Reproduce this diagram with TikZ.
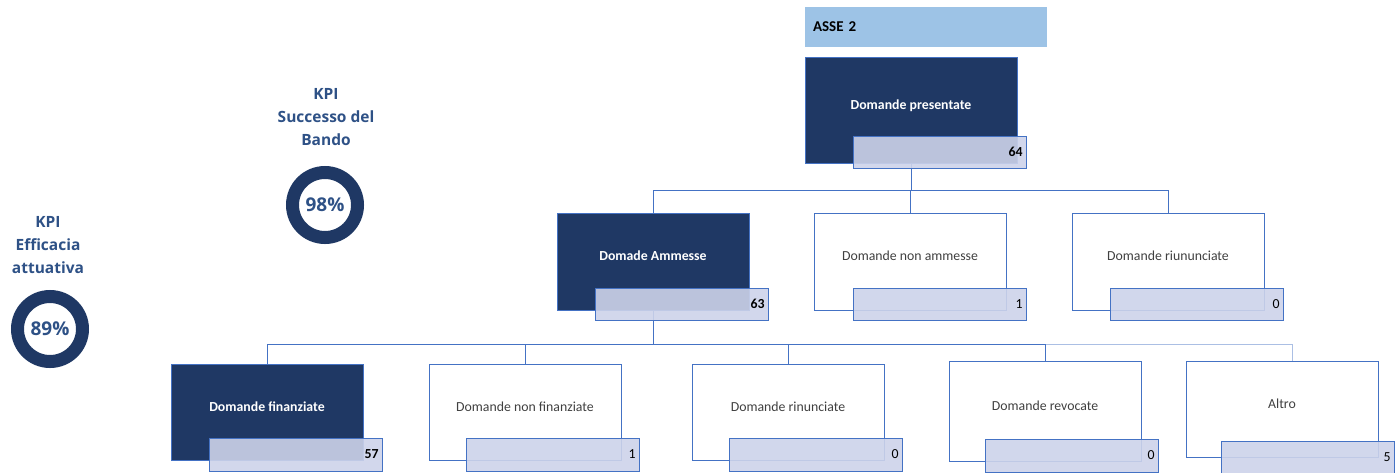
\documentclass[tikz,border=0pt]{standalone}
\usepackage{fontspec}
\setmainfont{Carlito}
\newfontfamily\kpifont{Open Sans}
\usetikzlibrary{backgrounds}

\definecolor{navy}{HTML}{1F3864}
\definecolor{lineblue}{HTML}{4472C4}
\definecolor{assefill}{HTML}{9DC3E6}
\definecolor{numfill}{HTML}{CDD3EA}
\definecolor{kpitext}{HTML}{2E5186}
\definecolor{greytext}{HTML}{404040}

\tikzset{
  box/.style={draw=lineblue, line width=0.8pt, minimum width=192pt, minimum height=97pt,
    inner sep=0pt, text height=10pt, text depth=12pt, font=\fontsize{13.8}{16}\selectfont},
  darkbox/.style={box, fill=navy, text=white, font=\fontsize{13.8}{16}\selectfont\bfseries},
  whitebox/.style={box, fill=white, text=greytext},
  numbox/.style={draw=lineblue, line width=0.8pt, fill=numfill, fill opacity=0.9, text opacity=1,
    minimum width=173pt, minimum height=32pt, text width=166pt, align=right, inner sep=0pt,
    anchor=south west, text=black, font=\fontsize{13.8}{16}\selectfont},
  darknum/.style={numbox, font=\fontsize{13.8}{16}\selectfont\bfseries},
  conn/.style={draw=lineblue, line width=0.8pt},
  ring/.style={circle, draw=navy, line width=13pt, minimum size=65pt, inner sep=0pt,
    text=kpitext, font=\kpifont\fontsize{19}{20}\selectfont\bfseries},
  kpi/.style={align=center, text=kpitext, font=\kpifont\fontsize{15.5}{23}\selectfont\bfseries}
}

\begin{document}
\begin{tikzpicture}[x=1pt,y=-1pt]
\useasboundingbox (0,0) rectangle (1399,472);

\node[kpi] (kpisucc) at (326,117) {KPI\\Successo del\\Bando};
\node[ring] (ringsucc) at (325,205) {98\%};
\node[kpi] (kpieff) at (48,245) {KPI\\Efficacia\\attuativa};
\node[ring] (ringeff) at (50,329) {89\%};

\node[fill=assefill, minimum width=242pt, minimum height=40pt, inner sep=0pt, text width=226pt,
  align=left, font=\fontsize{15}{16}\selectfont\bfseries] (asse) at (926,27) {ASSE 2};

\node[darkbox, minimum width=212pt, minimum height=106pt] (pres) at (911,110) {Domande presentate};
\node[darknum] (pres-n) at ([shift={(48,5)}]pres.south west) {64};

\node[darkbox] (amm) at (653,261.5) {Domade Ammesse};
\node[darknum] (amm-n) at ([shift={(38,10)}]amm.south west) {63};
\node[whitebox] (nonamm) at (910,261.5) {Domande non ammesse};
\node[numbox] (nonamm-n) at ([shift={(39,10)}]nonamm.south west) {1};
\node[whitebox] (riun) at (1168,261.5) {Domande riununciate};
\node[numbox] (riun-n) at ([shift={(38,10)}]riun.south west) {0};

\node[darkbox, minimum height=96pt] (fin) at (267,412) {Domande finanziate};
\node[darknum, minimum height=33pt] (fin-n) at ([shift={(38,11)}]fin.south west) {57};
\node[whitebox, minimum height=96pt] (nonfin) at (525,412) {Domande non finanziate};
\node[numbox, minimum height=33pt] (nonfin-n) at ([shift={(37,11)}]nonfin.south west) {1};
\node[whitebox, minimum height=96pt] (rin) at (788,412) {Domande rinunciate};
\node[numbox, minimum height=33pt] (rin-n) at ([shift={(37,11)}]rin.south west) {0};
\node[whitebox, minimum height=100pt] (rev) at (1045,411) {Domande revocate};
\node[numbox, minimum height=33pt] (rev-n) at ([shift={(36,11)}]rev.south west) {0};
\node[whitebox, minimum height=96pt] (altro) at (1282,409) {Altro};
\node[numbox, minimum height=33pt] (altro-n) at ([shift={(35,17)}]altro.south west) {5};

\begin{scope}[on background layer]
\foreach \c in {amm,nonamm,riun}{
\draw[conn] (pres.south) -- ++(0,27) -| (\c.north);
}
\foreach \c in {fin,nonfin,rin,rev}{
\draw[conn] (amm.south) -- ++(0,34) -| (\c.north);
}
\draw[conn, draw opacity=0.45] (amm.south) -- ++(0,34) -| ([xshift=10pt]altro.north);
\end{scope}
\end{tikzpicture}
\end{document}
